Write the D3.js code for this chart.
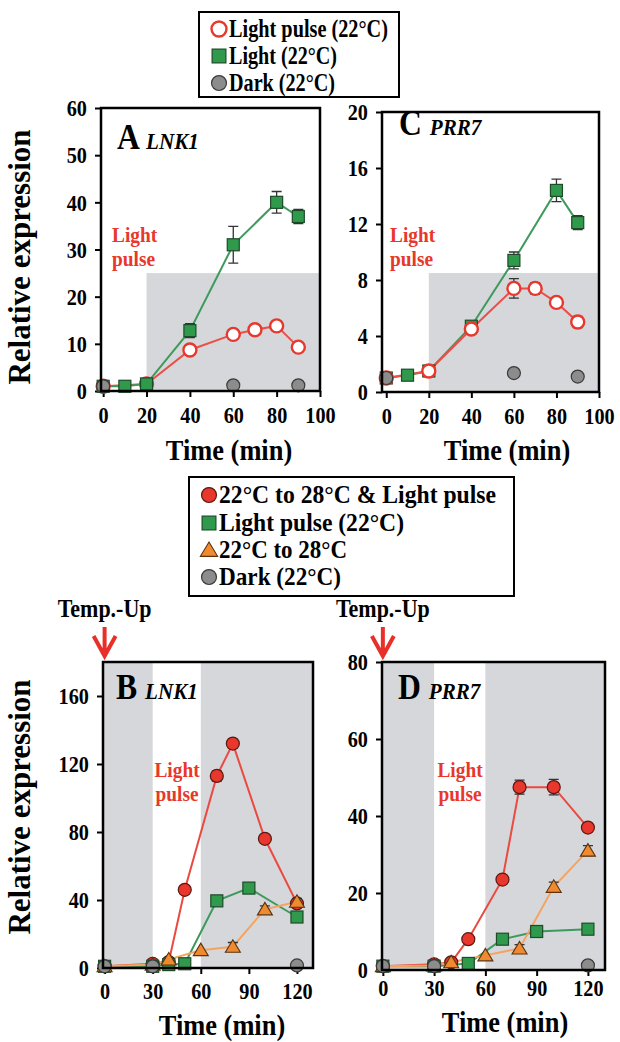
<!DOCTYPE html>
<html>
<head>
<meta charset="utf-8">
<script src="https://cdn.jsdelivr.net/npm/d3@7"></script>
<style>
body { margin: 0; background: #fff; }
text { font-family: "Liberation Serif", "DejaVu Serif", serif; font-weight: bold; }
</style>
</head>
<body>
<script>
// ---- data ----
// panel A, LNK1 (22C)
var aPulseT = [0, 20, 40, 60, 70, 80, 90];
var aPulse = [1, 1.5, 8.7, 12, 13, 13.8, 9.3];
var aPulseErr = [0.2, 0.3, 0.8, 1, 0.9, 1, 0.8];
var aLightT = [0, 10, 20, 40, 60, 80, 90];
var aLight = [1, 1, 1.5, 12.8, 31, 40, 37];
var aLightErr = [0.2, 0.3, 0.3, 1.5, 3.9, 2.3, 1.5];
var aDarkT = [0, 60, 90];
var aDark = [1, 1.2, 1.2];

// panel C, PRR7 (22C)
var cPulseT = [0, 20, 40, 60, 70, 80, 90];
var cPulse = [1, 1.5, 4.5, 7.4, 7.4, 6.4, 5.0];
var cPulseErr = [0.1, 0.1, 0.3, 0.7, 0.4, 0.3, 0.4];
var cLightT = [0, 10, 20, 40, 60, 80, 90];
var cLight = [1, 1.2, 1.5, 4.7, 9.4, 14.4, 12.1];
var cLightErr = [0.1, 0.1, 0.1, 0.3, 0.6, 0.8, 0.5];
var cDarkT = [0, 60, 90];
var cDark = [1, 1.35, 1.1];

// panel B, LNK1 (temperature up)
var bBothT = [0, 30, 40, 50, 70, 80, 100, 120];
var bBoth = [1, 2.5, 3.5, 46, 113, 132, 76, 38];
var bBothErr = [0.3, 0.5, 0.5, 1.5, 3, 2.5, 2, 2];
var bPulseT = [0, 30, 40, 50, 70, 90, 120];
var bPulse = [1, 1, 2, 2.5, 39.5, 47, 30];
var bPulseErr = [0.3, 0.3, 0.3, 0.5, 1.5, 1.5, 1.5];
var bTempT = [0, 30, 40, 60, 80, 100, 120];
var bTemp = [1, 2, 5, 10.5, 12.5, 34.5, 39];
var bTempErr = [0.3, 0.3, 0.5, 1, 2.5, 2, 2];
var bDarkT = [0, 30, 120];
var bDark = [1, 1, 1.5];

// panel D, PRR7 (temperature up)
var dBothT = [0, 30, 40, 50, 70, 80, 100, 120];
var dBoth = [1, 1.5, 2, 8, 23.5, 47.5, 47.5, 37];
var dBothErr = [0.2, 0.3, 0.3, 0.6, 1, 1.8, 2, 1];
var dPulseT = [0, 30, 50, 70, 90, 120];
var dPulse = [1, 1, 1.7, 8, 10, 10.6];
var dPulseErr = [0.2, 0.2, 0.3, 0.8, 0.8, 0.8];
var dTempT = [0, 30, 40, 60, 80, 100, 120];
var dTemp = [1, 1.2, 2, 3.8, 5.6, 21.6, 31];
var dTempErr = [0.2, 0.2, 0.3, 0.5, 1, 1.2, 1.3];
var dDarkT = [0, 30, 120];
var dDark = [1, 1, 1.2];

// ticks
var xTicksTop = [0, 20, 40, 60, 80, 100];
var xTicksBottom = [0, 30, 60, 90, 120];
var yTicksA = [0, 10, 20, 30, 40, 50, 60];
var yTicksC = [0, 4, 8, 12, 16, 20];
var yTicksB = [0, 40, 80, 120, 160];
var yTicksD = [0, 20, 40, 60, 80];

// legend labels
var legendTop = ["Light pulse (22\u00B0C)", "Light (22\u00B0C)", "Dark (22\u00B0C)"];
var legendBottom = ["22\u00B0C to 28\u00B0C & Light pulse", "Light pulse (22\u00B0C)", "22\u00B0C to 28\u00B0C", "Dark (22\u00B0C)"];

// ---- styles ----
var FONT = "'Liberation Serif', 'DejaVu Serif', serif";
var RED = "#e8372c", GREEN = "#2f9a4c", ORANGE = "#f08a2e", GREY = "#8c8c8c", SHADE = "#d5d7da";
var SQX = 0.88; // figure is squeezed horizontally

var styles = {
  open:   {shape: "circle", fill: "#fff", stroke: RED, sw: 2.4, line: "#ea5048"},
  square: {shape: "square", fill: GREEN, stroke: "#1e4a2a", sw: 1.2, line: "#3d9a5c"},
  red:    {shape: "circle", fill: RED, stroke: "#5a1812", sw: 1.2, line: "#ea4a40"},
  tri:    {shape: "tri", fill: ORANGE, stroke: "#5a3210", sw: 1.1, line: "#f4a462"},
  grey:   {shape: "circle", fill: GREY, stroke: "#3a3a3a", sw: 1.2, line: null}
};

function zip(t, v, e) {
  return t.map(function(d, i) { return {t: d, v: v[i], e: e ? e[i] : 0}; });
}

var svg = d3.select("body").append("svg")
    .attr("width", 620)
    .attr("height", 1042)
    .attr("font-family", FONT)
    .attr("font-weight", "bold");

// text with horizontal squeeze (or a fixed width)
function label(g, x, y, str, size, anchor, color, width) {
  var t = g.append("text")
      .attr("font-family", FONT)
      .attr("font-weight", "bold")
      .attr("text-anchor", anchor || "start")
      .attr("font-size", size)
      .attr("fill", color || "#000")
      .text(str);
  if (width) {
    t.attr("x", x).attr("y", y).attr("textLength", width).attr("lengthAdjust", "spacingAndGlyphs");
  } else {
    t.attr("transform", "translate(" + x + "," + y + ") scale(" + SQX + ",1)");
  }
  return t;
}

function marker(g, st, cx, cy, s) {
  s = s || 1;
  if (st.shape == "circle") {
    g.append("circle").attr("cx", cx).attr("cy", cy).attr("r", 6.5 * s)
      .attr("fill", st.fill).attr("stroke", st.stroke).attr("stroke-width", st.sw);
  } else if (st.shape == "square") {
    g.append("rect").attr("x", cx - 6 * s).attr("y", cy - 6 * s).attr("width", 12 * s).attr("height", 12 * s)
      .attr("fill", st.fill).attr("stroke", st.stroke).attr("stroke-width", st.sw);
  } else {
    g.append("path")
      .attr("d", "M" + cx + "," + (cy - 7 * s) + "L" + (cx + 7.5 * s) + "," + (cy + 5.5 * s) + "L" + (cx - 7.5 * s) + "," + (cy + 5.5 * s) + "Z")
      .attr("fill", st.fill).attr("stroke", st.stroke).attr("stroke-width", st.sw);
  }
}

var panels = [
  {id: "A", gene: "LNK1", left: 101, right: 320, top: 108, bottom: 391,
   xDom: [-1, 100], yDom: [0, 60], xTicks: xTicksTop, yTicks: yTicksA,
   shade: [[20, 100, 0, 25]], titleX: 117, titleY: 149,
   lp: [112, 242], lpAnchor: "start",
   ylab: [30, 257], xpad: 10, xlab: [229, 460],
   series: [
     {st: "open", d: zip(aPulseT, aPulse, aPulseErr)},
     {st: "square", d: zip(aLightT, aLight, aLightErr)},
     {st: "grey", d: zip(aDarkT, aDark)}
   ]},
  {id: "C", gene: "PRR7", left: 382, right: 599, top: 112, bottom: 392,
   xDom: [-2, 100], yDom: [0, 20], xTicks: xTicksTop, yTicks: yTicksC,
   shade: [[20, 100, 0, 8.5]], titleX: 399, titleY: 135,
   lp: [390, 242], lpAnchor: "start",
   ylab: null, xpad: 10, xlab: [507, 460],
   series: [
     {st: "square", d: zip(cLightT, cLight, cLightErr)},
     {st: "open", d: zip(cPulseT, cPulse, cPulseErr)},
     {st: "grey", d: zip(cDarkT, cDark)}
   ]},
  {id: "B", gene: "LNK1", left: 103, right: 313, top: 662, bottom: 968,
   xDom: [-1, 130], yDom: [0, 180], xTicks: xTicksBottom, yTicks: yTicksB,
   shade: [[-1, 30, 0, 180], [60, 130, 0, 180]], titleX: 116, titleY: 699,
   lp: [177, 777], lpAnchor: "middle",
   ylab: [30, 807], xpad: 9, xlab: [222, 1035], temp: true,
   series: [
     {st: "red", d: zip(bBothT, bBoth, bBothErr)},
     {st: "square", d: zip(bPulseT, bPulse, bPulseErr)},
     {st: "tri", d: zip(bTempT, bTemp, bTempErr)},
     {st: "grey", d: zip(bDarkT, bDark)}
   ]},
  {id: "D", gene: "PRR7", left: 382, right: 605, top: 662, bottom: 970,
   xDom: [-0.5, 130], yDom: [0, 80], xTicks: xTicksBottom, yTicks: yTicksD,
   shade: [[-0.5, 30, 0, 80], [60, 130, 0, 80]], titleX: 398, titleY: 699,
   lp: [460, 777], lpAnchor: "middle",
   ylab: null, xpad: 4, xlab: [505, 1032], temp: true,
   series: [
     {st: "red", d: zip(dBothT, dBoth, dBothErr)},
     {st: "square", d: zip(dPulseT, dPulse, dPulseErr)},
     {st: "tri", d: zip(dTempT, dTemp, dTempErr)},
     {st: "grey", d: zip(dDarkT, dDark)}
   ]}
];

panels.forEach(function(p) {
  var x = d3.scaleLinear().domain(p.xDom).range([p.left, p.right]);
  var y = d3.scaleLinear().domain(p.yDom).range([p.bottom, p.top]);
  var g = svg.append("g");

  // shaded (dark) periods
  p.shade.forEach(function(s) {
    g.append("rect")
      .attr("x", x(s[0])).attr("width", x(s[1]) - x(s[0]))
      .attr("y", y(s[3])).attr("height", y(s[2]) - y(s[3]))
      .attr("fill", SHADE);
  });

  // axes
  var xa = g.append("g")
      .attr("transform", "translate(0," + p.bottom + ")")
      .call(d3.axisBottom(x).tickValues(p.xTicks).tickSize(6).tickSizeOuter(0).tickPadding(p.xpad));
  var ya = g.append("g")
      .attr("transform", "translate(" + p.left + ",0)")
      .call(d3.axisLeft(y).tickValues(p.yTicks).tickSize(6).tickSizeOuter(0).tickPadding(10));
  [xa, ya].forEach(function(a) {
    a.attr("font-family", FONT).attr("font-size", 23);
    a.select(".domain").remove();
    a.selectAll("line").attr("stroke", "#000").attr("stroke-width", 2);
    a.selectAll("text")
      .attr("font-family", FONT)
      .attr("font-weight", "bold")
      .attr("font-size", 23)
      .attr("fill", "#000")
      .attr("transform", "scale(" + SQX + ",1)");
  });
  ya.selectAll("text").attr("dy", "0.34em");

  // "Light pulse" note
  label(g, p.lp[0], p.lp[1], "Light", 22, p.lpAnchor, RED);
  label(g, p.lp[0], p.lp[1] + 24, "pulse", 22, p.lpAnchor, RED);

  // series
  var line = d3.line().x(function(d) { return x(d.t); }).y(function(d) { return y(d.v); });
  p.series.forEach(function(s) {
    var st = styles[s.st];
    if (st.line) {
      g.append("path").datum(s.d)
        .attr("d", line).attr("fill", "none")
        .attr("stroke", st.line).attr("stroke-width", 2);
    }
  });
  p.series.forEach(function(s) {
    var st = styles[s.st];
    s.d.forEach(function(d) {
      if (d.e > 0.6 * (p.yDom[1] / 60)) {
        var cx = x(d.t);
        g.append("path")
          .attr("d", "M" + cx + "," + y(d.v - d.e) + "V" + y(d.v + d.e) +
                     "M" + (cx - 5) + "," + y(d.v - d.e) + "h10" +
                     "M" + (cx - 5) + "," + y(d.v + d.e) + "h10")
          .attr("stroke", "#333").attr("stroke-width", 1.3).attr("fill", "none");
      }
      marker(g, st, x(d.t), y(d.v));
    });
  });

  // frame
  g.append("rect")
    .attr("x", p.left).attr("y", p.top)
    .attr("width", p.right - p.left).attr("height", p.bottom - p.top)
    .attr("fill", "none").attr("stroke", "#000").attr("stroke-width", 2.5);

  // panel title
  var t = g.append("text")
      .attr("font-family", FONT)
      .attr("transform", "translate(" + p.titleX + "," + p.titleY + ") scale(" + SQX + ",1)");
  t.append("tspan").attr("font-size", 36).text(p.id + " ");
  t.append("tspan").attr("font-size", 24).attr("font-style", "italic").text(p.gene);

  // axis titles
  if (p.ylab) {
    g.append("text")
      .attr("font-family", FONT)
      .attr("transform", "translate(" + p.ylab[0] + "," + p.ylab[1] + ") rotate(-90)")
      .attr("text-anchor", "middle")
      .attr("font-size", 31)
      .text("Relative expression");
  }
  label(g, p.xlab[0], p.xlab[1], "Time (min)", 30, "middle");

  // temperature shift arrow
  if (p.temp) {
    var ax = x(0);
    label(g, ax, 617, "Temp.-Up", 25, "middle");
    g.append("path")
      .attr("d", "M" + ax + ",627V656M" + (ax - 11) + ",636L" + ax + ",656L" + (ax + 11) + ",636")
      .attr("fill", "none").attr("stroke", "#e8302a").attr("stroke-width", 4)
      .attr("stroke-linejoin", "miter");
  }
});

// legends
function legend(x0, y0, w, h, rowY, items, widths, shapes, size) {
  var g = svg.append("g");
  g.append("rect").attr("x", x0).attr("y", y0).attr("width", w).attr("height", h)
    .attr("fill", "#fff").attr("stroke", "#000").attr("stroke-width", 2);
  items.forEach(function(txt, i) {
    var yy = y0 + rowY[i];
    marker(g, styles[shapes[i]], x0 + 20, yy - 8, 1.15);
    label(g, x0 + 30, yy, txt, size, "start", "#000", widths[i]);
  });
}
legend(199, 12, 200, 85, [25, 52, 79], legendTop, [159, 108, 106], ["open", "square", "grey"], 26);
legend(189, 477, 325, 119, [26, 54, 81, 108], legendBottom, [277, 185, 128, 122], ["red", "square", "tri", "grey"], 26);
</script>
</body>
</html>
